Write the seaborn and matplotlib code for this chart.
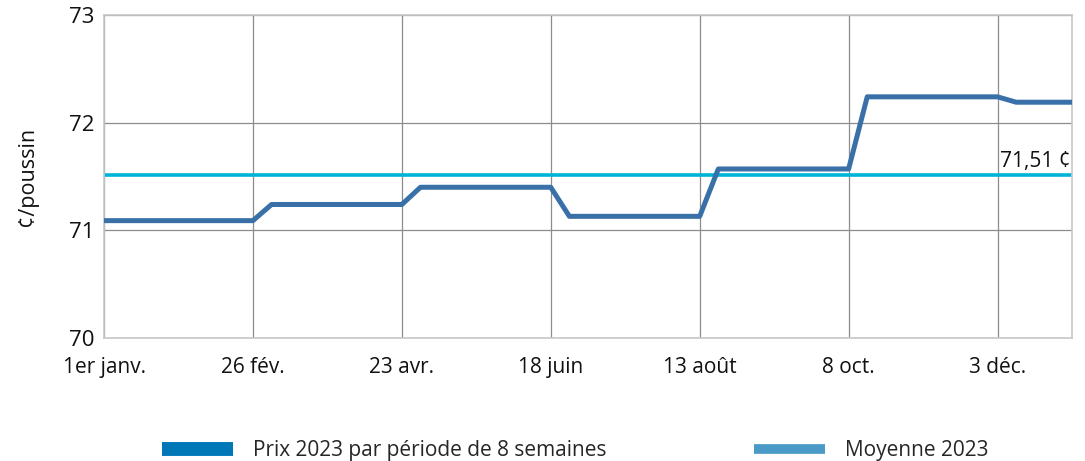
import matplotlib
matplotlib.use("Agg")
import matplotlib.pyplot as plt
from matplotlib.lines import Line2D
import seaborn as sns
import pandas as pd

# ---- data ----
week_index = list(range(53))
prix_2023 = [
    71.09, 71.09, 71.09, 71.09, 71.09, 71.09, 71.09, 71.09, 71.09,
    71.24, 71.24, 71.24, 71.24, 71.24, 71.24, 71.24, 71.24,
    71.40, 71.40, 71.40, 71.40, 71.40, 71.40, 71.40, 71.40,
    71.13, 71.13, 71.13, 71.13, 71.13, 71.13, 71.13, 71.13,
    71.57, 71.57, 71.57, 71.57, 71.57, 71.57, 71.57, 71.57,
    72.24, 72.24, 72.24, 72.24, 72.24, 72.24, 72.24, 72.24,
    72.19, 72.19, 72.19, 72.19,
]
moyenne_2023 = 71.51
tick_weeks = [0, 8, 16, 24, 32, 40, 48]
tick_labels = ["1er janv.", "26 fév.", "23 avr.", "18 juin", "13 août", "8 oct.", "3 déc."]
y_ticks = [70, 71, 72, 73]
legend_labels = ["Prix 2023 par période de 8 semaines", "Moyenne 2023"]

df = pd.DataFrame({"semaine": week_index, "prix": prix_2023})

sns.set_theme(style="white")
plt.rcParams["font.family"] = ["Open Sans", "DejaVu Sans"]

fig = plt.figure(figsize=(10.85, 4.61), dpi=100)
ax = fig.add_axes([104 / 1085, 1 - 338 / 461, (1072 - 104) / 1085, (338 - 15) / 461])

ax.axhline(moyenne_2023, color="#00b4d8", lw=2.6, zorder=2)
sns.lineplot(data=df, x="semaine", y="prix", ax=ax, color="#3a70a8", lw=3.6, zorder=3)

ax.set_xlim(0, 52)
ax.set_ylim(70, 73)
ax.set_xticks(tick_weeks)
ax.set_xticklabels(tick_labels, fontsize=15, color="#111111")
ax.set_yticks(y_ticks)
ax.set_yticklabels([str(v) for v in y_ticks], fontsize=16, color="#111111")
ax.tick_params(axis="y", length=0, pad=7)
ax.tick_params(axis="x", length=0, pad=14)
ax.grid(True, color="#8c8c8c", lw=0.9)
for s in ax.spines.values():
    s.set_color("#c8c8c8")
    s.set_linewidth(1.2)
ax.set_xlabel("")
ax.set_ylabel("¢/poussin", fontsize=15.5, color="#111111", labelpad=22)

ax.text(51.9, moyenne_2023 + 0.035, "71,51 ¢", ha="right", va="bottom", fontsize=15, color="#111111")

handles = [Line2D([0], [0], color="#0077b6", lw=10, solid_capstyle="butt"),
           Line2D([0], [0], color="#4a9ac8", lw=7, solid_capstyle="butt")]
fig.legend(handles, legend_labels, ncol=2, loc="center", bbox_to_anchor=(0.530, 0.022),
           frameon=False, fontsize=15, handlelength=3.4, handletextpad=0.95, columnspacing=7.1)

fig.savefig("out.png", dpi=100)
